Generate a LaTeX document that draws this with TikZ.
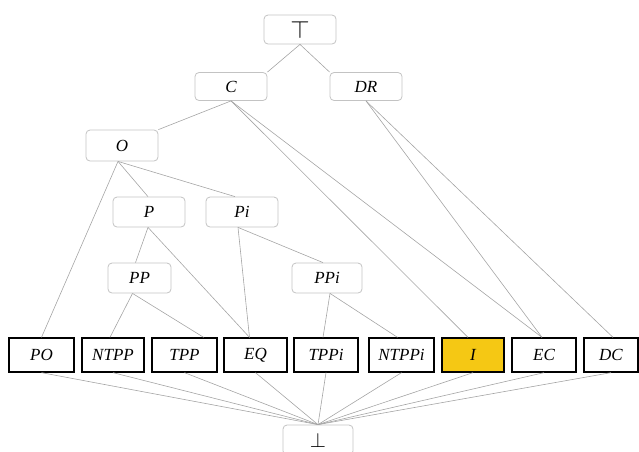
\documentclass[tikz,border=0pt]{standalone}
\usepackage{fontspec}
\setmainfont{Liberation Serif}
\definecolor{gold}{RGB}{245,200,20}
\definecolor{ubord}{RGB}{195,195,195}
\definecolor{ecol}{RGB}{165,165,165}
\begin{document}
\begin{tikzpicture}[x=1pt,y=-1pt,
  lbl/.style={font=\fontsize{17}{20}\selectfont\itshape},
  ubox/.style={lbl, draw=ubord, rounded corners=4pt, line width=0.8pt,
    minimum width=72pt, minimum height=30pt, inner sep=0pt},
  lbox/.style={lbl, draw=black, line width=1.3pt, minimum height=34pt,
    minimum width=64pt, inner sep=0pt},
  edge/.style={draw=ecol, line width=0.6pt}]
\useasboundingbox (0,0) rectangle (639,451);
\clip (0,0) rectangle (639,451);
% upper lattice
\node[ubox, minimum height=29pt, font=\fontsize{26}{30}\selectfont] (top) at (300,29.5) {$\top$};
\node[ubox, minimum height=28pt] (C)  at (231,86.5) {C};
\node[ubox, minimum height=28pt] (DR) at (366,86.5) {DR};
\node[ubox, minimum height=31pt] (O)  at (122,145.5) {O};
\node[ubox] (P)  at (149,212) {P};
\node[ubox] (Pi) at (242,212) {Pi};
\node[ubox, minimum width=63pt] (PP)  at (139.5,278) {PP};
\node[ubox, minimum width=70pt] (PPi) at (327,278) {PPi};
% bottom row
\node[lbox, minimum width=65pt] (PO)    at (41.5,355)  {PO};
\node[lbox, minimum width=62pt] (NTPP)  at (113,355)   {NTPP};
\node[lbox, minimum width=65pt] (TPP)   at (184.5,355) {TPP};
\node[lbox, minimum width=63pt] (EQ)    at (255.5,355) {EQ};
\node[lbox] (TPPi)  at (326,355)   {TPPi};
\node[lbox, minimum width=65pt] (NTPPi) at (401.5,355) {NTPPi};
\node[lbox, minimum width=62pt, fill=gold] (I) at (473,355) {I};
\node[lbox] (EC)    at (544,355)   {EC};
\node[lbox, minimum width=54pt] (DC)    at (611,355)   {DC};
\node[ubox, minimum width=70pt, minimum height=30pt, font=\fontsize{20}{24}\selectfont] (bot) at (318,440) {$\bot$};
% edges
\draw[edge] (top.south) -- (C.north east);
\draw[edge] (top.south) -- (DR.north west);
\draw[edge] (C.south) -- (O.north east);
\draw[edge] (C.south) -- ([xshift=-5pt]I.north);
\draw[edge] (C.south) -- ([xshift=-2pt]EC.north);
\draw[edge] (DR.south) -- ([xshift=-2pt]EC.north);
\draw[edge] (DR.south) -- ([xshift=2pt]DC.north);
\draw[edge] ([xshift=-4pt]O.south) -- (PO.north);
\draw[edge] ([xshift=-4pt]O.south) -- ([xshift=-1pt]P.north);
\draw[edge] ([xshift=-4pt]O.south) -- ([xshift=-7pt]Pi.north);
\draw[edge] ([xshift=-1pt]P.south) -- ([xshift=-4pt]PP.north);
\draw[edge] ([xshift=-1pt]P.south) -- ([xshift=-6pt]EQ.north);
\draw[edge] ([xshift=-4pt]Pi.south) -- ([xshift=-6pt]EQ.north);
\draw[edge] ([xshift=-4pt]Pi.south) -- ([xshift=-4pt]PPi.north);
\draw[edge] ([xshift=-7pt]PP.south) -- ([xshift=-3pt]NTPP.north);
\draw[edge] ([xshift=-7pt]PP.south) -- ([xshift=-14pt]TPP.north east);
\draw[edge] ([xshift=3pt]PPi.south) -- ([xshift=-3pt]TPPi.north);
\draw[edge] ([xshift=3pt]PPi.south) -- ([xshift=-4pt]NTPPi.north);
\foreach \n in {PO,NTPP,TPP,EQ,TPPi,NTPPi,I,EC,DC}
  \draw[edge] (\n.south) -- (bot.north);
\end{tikzpicture}
\end{document}
